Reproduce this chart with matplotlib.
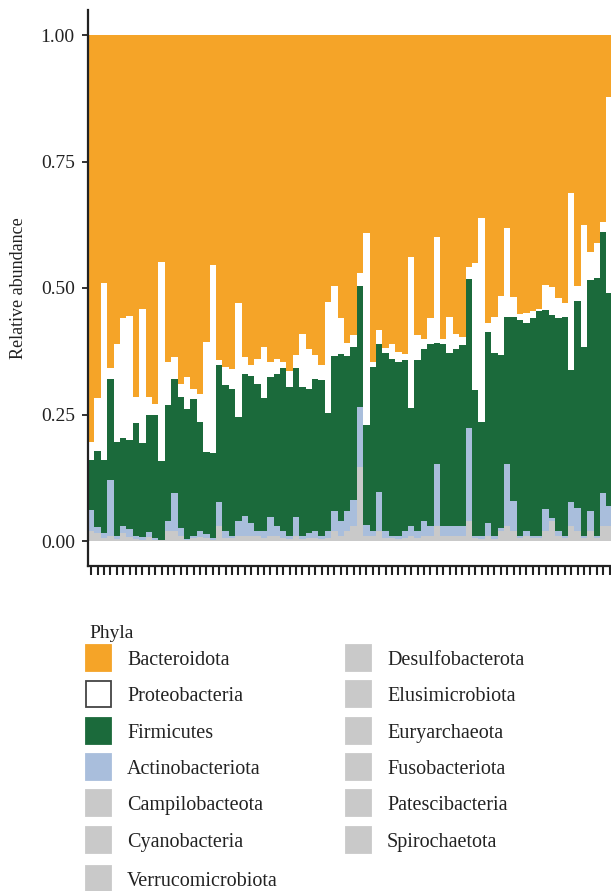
import numpy as np
import matplotlib
matplotlib.use('Agg')
import matplotlib.pyplot as plt
from matplotlib.patches import Rectangle

#Stacked tops, one entry per sample (bottom to top:
#other phyla, Actinobacteriota, Firmicutes, Proteobacteria; Bacteroidota fills to 1)
topOther = [0.02, 0.015, 0.005, 0.01, 0.004, 0.015, 0.008, 0.003, 0.002, 0.008,
            0.002, 0.001, 0.02, 0.02, 0.01, 0.001, 0.005, 0.008, 0.005, 0.002,
            0.03, 0.005, 0.005, 0.01, 0.01, 0.01, 0.01, 0.005, 0.01, 0.01,
            0.005, 0.003, 0.01, 0.003, 0.005, 0.005, 0.003, 0.005, 0.02, 0.01,
            0.02, 0.03, 0.147, 0.01, 0.01, 0.02, 0.005, 0.005, 0.003, 0.005,
            0.01, 0.005, 0.01, 0.01, 0.03, 0.01, 0.01, 0.01, 0.01, 0.04,
            0.005, 0.003, 0.01, 0.003, 0.02, 0.03, 0.02, 0.005, 0.01, 0.005,
            0.005, 0.02, 0.04, 0.01, 0.005, 0.03, 0.02, 0.005, 0.02, 0.005,
            0.03, 0.03]
topActino = [0.061, 0.028, 0.015, 0.12, 0.01, 0.03, 0.023, 0.01, 0.008, 0.017,
             0.005, 0.002, 0.04, 0.094, 0.025, 0.003, 0.01, 0.02, 0.014, 0.005,
             0.078, 0.02, 0.01, 0.04, 0.05, 0.035, 0.02, 0.02, 0.048, 0.03,
             0.02, 0.01, 0.048, 0.01, 0.015, 0.02, 0.01, 0.02, 0.06, 0.04,
             0.06, 0.081, 0.265, 0.032, 0.02, 0.097, 0.02, 0.01, 0.01, 0.02,
             0.03, 0.02, 0.04, 0.03, 0.153, 0.03, 0.03, 0.03, 0.03, 0.223,
             0.01, 0.01, 0.036, 0.01, 0.025, 0.153, 0.08, 0.01, 0.02, 0.01,
             0.01, 0.063, 0.045, 0.02, 0.01, 0.078, 0.065, 0.01, 0.06, 0.01,
             0.094, 0.07]
topFirmi = [0.161, 0.178, 0.16, 0.32, 0.196, 0.203, 0.199, 0.233, 0.194, 0.249,
            0.25, 0.158, 0.269, 0.32, 0.285, 0.26, 0.28, 0.235, 0.175, 0.173,
            0.348, 0.308, 0.30, 0.246, 0.331, 0.326, 0.31, 0.282, 0.325, 0.33,
            0.341, 0.305, 0.341, 0.305, 0.30, 0.321, 0.318, 0.252, 0.365, 0.37,
            0.365, 0.384, 0.503, 0.229, 0.344, 0.39, 0.371, 0.36, 0.354, 0.357,
            0.262, 0.357, 0.38, 0.39, 0.391, 0.39, 0.371, 0.38, 0.387, 0.517,
            0.298, 0.236, 0.414, 0.371, 0.368, 0.443, 0.443, 0.436, 0.43, 0.44,
            0.455, 0.457, 0.447, 0.44, 0.443, 0.338, 0.474, 0.384, 0.516, 0.519,
            0.611, 0.49]
topProteo = [0.196, 0.282, 0.51, 0.341, 0.389, 0.44, 0.445, 0.285, 0.458, 0.285,
             0.27, 0.552, 0.354, 0.364, 0.31, 0.325, 0.30, 0.29, 0.394, 0.545,
             0.358, 0.344, 0.34, 0.47, 0.364, 0.348, 0.36, 0.384, 0.354, 0.36,
             0.354, 0.335, 0.367, 0.41, 0.38, 0.367, 0.348, 0.473, 0.504, 0.44,
             0.391, 0.407, 0.529, 0.608, 0.354, 0.417, 0.381, 0.39, 0.374, 0.37,
             0.562, 0.407, 0.40, 0.44, 0.601, 0.40, 0.443, 0.41, 0.404, 0.542,
             0.549, 0.638, 0.43, 0.443, 0.485, 0.618, 0.483, 0.449, 0.45, 0.455,
             0.459, 0.505, 0.502, 0.48, 0.47, 0.687, 0.503, 0.625, 0.572, 0.588,
             0.631, 0.878]

yTicks = [0.00, 0.25, 0.50, 0.75, 1.00]
yTickLabels = ['0.00', '0.25', '0.50', '0.75', '1.00']

legendCol1 = ['Bacteroidota', 'Proteobacteria', 'Firmicutes', 'Actinobacteriota',
              'Campilobacteota', 'Cyanobacteria', 'Verrucomicrobiota']
legendCol2 = ['Desulfobacterota', 'Elusimicrobiota', 'Euryarchaeota',
              'Fusobacteriota', 'Patescibacteria', 'Spirochaetota']

orange = '#F5A428'
green = '#1B6A3B'
blue = '#A9BEDC'
grey = '#C9C9C9'
col1Colors = [orange, 'white', green, blue, grey, grey, grey]

plt.rcParams['font.family'] = ['Liberation Serif', 'DejaVu Serif']

W, H = 611, 891
fig = plt.figure(figsize=(W / 100, H / 100), dpi=100)

#axes: left spine at x=88px, y from 9.7px to 566.3px, running off the right edge
axLeft, axTop, axBottom = 88, 9.7, 566.3
ax = fig.add_axes([axLeft / W, (H - axBottom) / H, (W - axLeft) / W, (axBottom - axTop) / H])

x = np.arange(len(topProteo))
topOther = np.array(topOther)
topActino = np.array(topActino)
topFirmi = np.array(topFirmi)
topProteo = np.array(topProteo)

ax.bar(x, topOther, width=1.0, color=grey, linewidth=0)
ax.bar(x, topActino - topOther, bottom=topOther, width=1.0, color=blue, linewidth=0)
ax.bar(x, topFirmi - topActino, bottom=topActino, width=1.0, color=green, linewidth=0)
ax.bar(x, topProteo - topFirmi, bottom=topFirmi, width=1.0, color='white', linewidth=0)
ax.bar(x, 1 - topProteo, bottom=topProteo, width=1.0, color=orange, linewidth=0)

barPx = 6.4
ax.set_xlim(-0.5, -0.5 + (W - axLeft) / barPx)
ax.set_ylim(-0.05, 1.05)
ax.set_xticks(x)
ax.set_xticklabels([])
ax.set_yticks(yTicks)
ax.set_yticklabels(yTickLabels, fontsize=14, color='#222222')
ax.tick_params(axis='y', length=4.5, width=1.3, pad=5, color='#222222')
ax.tick_params(axis='x', length=6.5, width=1.5, color='#222222')
for side in ['top', 'right']:
    ax.spines[side].set_visible(False)
for side in ['left', 'bottom']:
    ax.spines[side].set_linewidth(1.6)
    ax.spines[side].set_color('#222222')
ax.set_ylabel('Relative abundance', fontsize=13, color='#222222', labelpad=10)

#legend, drawn by hand in pixel positions
def px(xp, yp):
    return xp / W, (H - yp) / H

fig.text(*px(89, 634), 'Phyla', fontsize=14, va='center', ha='left', color='#222222')
rowY = [658, 694, 731, 767, 803, 840, 879]
keyW, keyH = 25, 26
for i, name in enumerate(legendCol1):
    kx, ky = px(86, rowY[i] + keyH / 2)
    edge = '#444444' if col1Colors[i] == 'white' else col1Colors[i]
    fig.add_artist(Rectangle((kx, ky), keyW / W, keyH / H, transform=fig.transFigure,
                             facecolor=col1Colors[i], edgecolor=edge, linewidth=1.3))
    fig.text(*px(127, rowY[i] + 2.5), name, fontsize=14.5, va='center', ha='left', color='#222222')
for i, name in enumerate(legendCol2):
    kx, ky = px(346, rowY[i] + keyH / 2)
    fig.add_artist(Rectangle((kx, ky), keyW / W, keyH / H, transform=fig.transFigure,
                             facecolor=grey, edgecolor=grey, linewidth=1.3))
    fig.text(*px(387, rowY[i] + 2.5), name, fontsize=14.5, va='center', ha='left', color='#222222')

fig.savefig('out.png', dpi=100)
